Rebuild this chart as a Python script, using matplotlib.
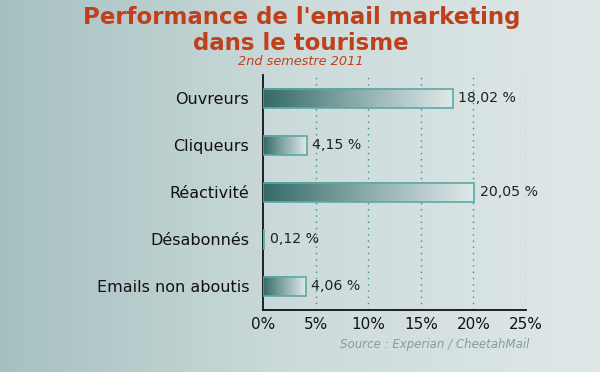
import numpy as np
import matplotlib
matplotlib.use("Agg")
import matplotlib.pyplot as plt
from matplotlib.colors import LinearSegmentedColormap

categories = ["Ouvreurs", "Cliqueurs", "Réactivité", "Désabonnés", "Emails non aboutis"]
values = [18.02, 4.15, 20.05, 0.12, 4.06]
value_labels = ["18,02 %", "4,15 %", "20,05 %", "0,12 %", "4,06 %"]
xticks = [0, 5, 10, 15, 20, 25]
xtick_labels = ["0%", "5%", "10%", "15%", "20%", "25%"]

plt.rcParams['font.family'] = ['DejaVu Sans']

fig = plt.figure(figsize=(6, 3.72), dpi=100)

# background gradient
bg = fig.add_axes([0, 0, 1, 1], zorder=-10)
bg_cmap = LinearSegmentedColormap.from_list("bg", ["#a6c0c0", "#cddbdb", "#dfe8e8"])
grad = np.linspace(0, 1, 256).reshape(1, -1)
bg.imshow(grad, aspect='auto', cmap=bg_cmap, extent=[0, 1, 0, 1])
bg.axis('off')

ax = fig.add_axes([0.4383, 0.1667, 0.4383, 0.6317])
ax.set_facecolor('none')

bar_cmap = LinearSegmentedColormap.from_list("bar", ["#346a67", "#8cadab", "#e0e9e9"])
h = 0.42
ypos = np.arange(len(categories))
for y, v, lab in zip(ypos, values, value_labels):
    ax.imshow(grad, aspect='auto', cmap=bar_cmap,
              extent=[0, v, y + h / 2, y - h / 2], zorder=2, interpolation='bilinear')
    ax.barh(y, v, height=h, facecolor='none', edgecolor='#5aaaa8', linewidth=1.2, zorder=3)
    ax.text(v + 0.55, y, lab, va='center', ha='left', fontsize=10.2, color='#222222', zorder=4)

ax.set_xlim(0, 25)
ax.set_ylim(len(categories) - 0.5, -0.5)
ax.set_yticks(ypos)
ax.set_yticklabels(categories, fontsize=11.5, color='#111111')
ax.set_xticks(xticks)
ax.set_xticklabels(xtick_labels, fontsize=11, color='#111111')
ax.tick_params(axis='both', length=0)
ax.tick_params(axis='x', pad=5)
ax.tick_params(axis='y', pad=10)

for x in xticks[1:]:
    ax.axvline(x, color='#3f8f8d', linestyle=(0, (1, 3.5)), linewidth=1.0, zorder=1)

for s in ['top', 'right']:
    ax.spines[s].set_visible(False)
ax.spines['left'].set_color('#111111')
ax.spines['bottom'].set_color('#111111')
ax.spines['left'].set_linewidth(1.3)
ax.spines['bottom'].set_linewidth(1.3)

fig.text(0.502, 0.935, "Performance de l'email marketing", ha='center', va='baseline',
         fontsize=16.5, fontweight='bold', color='#c0401c')
fig.text(0.502, 0.866, "dans le tourisme", ha='center', va='baseline',
         fontsize=16.5, fontweight='bold', color='#c0401c')
fig.text(0.502, 0.826, "2nd semestre 2011", ha='center', va='baseline',
         fontsize=9.3, fontstyle='italic', color='#c0401c')
fig.text(0.883, 0.073, "Source : Experian / CheetahMail", ha='right', va='center',
         fontsize=8.5, fontstyle='italic', color='#8a9a9a')

fig.savefig("out.png", dpi=100)
